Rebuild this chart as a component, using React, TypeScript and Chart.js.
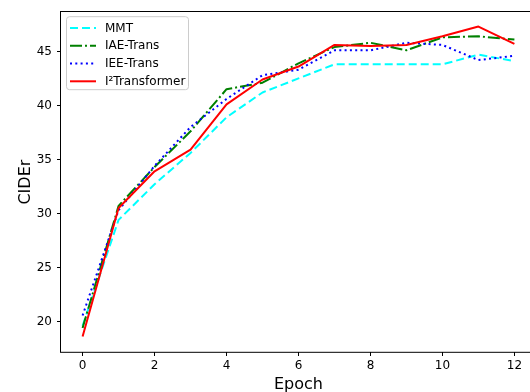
import React, { useEffect, useRef } from 'react';
import { Chart, registerables } from 'chart.js';

Chart.register(...registerables);

const epochs = [0, 1, 2, 3, 4, 5, 6, 7, 8, 9, 10, 11, 12];
const mmt = [19.6, 29.4, 32.7, 35.6, 38.9, 41.2, 42.5, 43.8, 43.8, 43.8, 43.8, 44.7, 44.1];
const iaeTrans = [19.4, 30.7, 34.3, 37.6, 41.5, 42.1, 43.9, 45.4, 45.8, 45.1, 46.3, 46.4, 46.1];
const ieeTrans = [20.55, 30.3, 34.4, 38.0, 40.6, 42.8, 43.3, 45.1, 45.1, 45.8, 45.6, 44.2, 44.6];
const i2Transformer = [18.6, 30.5, 33.9, 35.9, 40.1, 42.4, 43.6, 45.6, 45.5, 45.6, 46.4, 47.3, 45.7];

const seriesNames = ['MMT', 'IAE-Trans', 'IEE-Trans', 'I²Transformer'];
const xTicks = [0, 2, 4, 6, 8, 10, 12];
const yTicks = [20, 25, 30, 35, 40, 45];
const xLabel = 'Epoch';
const yLabel = 'CIDEr';

const FONT = "'DejaVu Sans', sans-serif";

const overlay = {
  id: 'overlay',
  afterDatasetsDraw(chart: any) {
    const { ctx, chartArea: a } = chart;
    ctx.save();
    ctx.strokeStyle = '#000';
    ctx.lineWidth = 1;
    ctx.strokeRect(Math.round(a.left) - 0.5, Math.round(a.top) - 0.5, a.right - a.left + 1, a.bottom - a.top + 1);
    ctx.restore();
  },
  afterDraw(chart: any) {
    const { ctx, chartArea: a } = chart;
    ctx.save();
    // legend
    const bx = a.left + 5.5, by = a.top + 4.5, bw = 122, bh = 73, r = 3;
    ctx.beginPath();
    ctx.moveTo(bx + r, by);
    ctx.lineTo(bx + bw - r, by);
    ctx.arcTo(bx + bw, by, bx + bw, by + r, r);
    ctx.lineTo(bx + bw, by + bh - r);
    ctx.arcTo(bx + bw, by + bh, bx + bw - r, by + bh, r);
    ctx.lineTo(bx + r, by + bh);
    ctx.arcTo(bx, by + bh, bx, by + bh - r, r);
    ctx.lineTo(bx, by + r);
    ctx.arcTo(bx, by, bx + r, by, r);
    ctx.closePath();
    ctx.fillStyle = 'rgba(255,255,255,0.8)';
    ctx.fill();
    ctx.strokeStyle = '#cccccc';
    ctx.lineWidth = 1;
    ctx.stroke();
    chart.data.datasets.forEach((ds: any, i: number) => {
      const y = a.top + 15.7 + i * 17.8;
      ctx.beginPath();
      ctx.setLineDash(ds.borderDash || []);
      ctx.strokeStyle = ds.borderColor;
      ctx.lineWidth = ds.borderWidth;
      ctx.lineCap = 'butt';
      ctx.moveTo(a.left + 9, y);
      ctx.lineTo(a.left + 35, y);
      ctx.stroke();
      ctx.setLineDash([]);
      ctx.fillStyle = '#000';
      ctx.font = `12px ${FONT}`;
      ctx.textAlign = 'left';
      ctx.textBaseline = 'middle';
      ctx.fillText(ds.label, a.left + 44, y + 0.5);
    });
    // axis titles
    ctx.fillStyle = '#000';
    ctx.font = `16px ${FONT}`;
    ctx.textAlign = 'center';
    ctx.textBaseline = 'alphabetic';
    ctx.fillText(xLabel, (a.left + a.right) / 2, 389);
    ctx.translate(29.5, (a.top + a.bottom) / 2);
    ctx.rotate(-Math.PI / 2);
    ctx.fillText(yLabel, 0, 0);
    ctx.restore();
  },
};

export default function App() {
  const ref = useRef<HTMLCanvasElement | null>(null);
  useEffect(() => {
    if (!ref.current) return;
    const mk = (vals: number[]) => epochs.map((e, i) => ({ x: e, y: vals[i] }));
    const chart = new Chart(ref.current, {
      type: 'line',
      data: {
        datasets: [
          { label: seriesNames[0], data: mk(mmt), borderColor: '#00ffff', borderDash: [8, 4], borderWidth: 2, order: 3 },
          { label: seriesNames[1], data: mk(iaeTrans), borderColor: '#008000', borderDash: [12, 3, 2, 3], borderWidth: 2, order: 2 },
          { label: seriesNames[2], data: mk(ieeTrans), borderColor: '#0000ff', borderDash: [2, 3.3], borderWidth: 2, order: 1 },
          { label: seriesNames[3], data: mk(i2Transformer), borderColor: '#ff0000', borderWidth: 2, order: 0 },
        ] as any,
      },
      options: {
        animation: false,
        responsive: false,
        devicePixelRatio: 1,
        layout: { padding: { left: 0, top: 10, right: 24, bottom: 0 } },
        elements: {
          point: { radius: 0, hoverRadius: 0 },
          line: { tension: 0, fill: false, borderCapStyle: 'butt', borderJoinStyle: 'round' },
        },
        plugins: { legend: { display: false }, tooltip: { enabled: false } },
        scales: {
          x: {
            type: 'linear',
            min: -0.6,
            max: 12.6,
            afterBuildTicks: (s: any) => { s.ticks = xTicks.map((v) => ({ value: v })); },
            afterFit: (s: any) => { s.height = 40; },
            grid: { display: true, drawOnChartArea: false, drawTicks: true, tickLength: 4, color: '#000' },
            border: { display: false },
            ticks: { color: '#000', font: { family: FONT, size: 12 }, padding: 3, maxRotation: 0, autoSkip: false },
          },
          y: {
            type: 'linear',
            min: 17.17,
            max: 48.63,
            afterBuildTicks: (s: any) => { s.ticks = yTicks.map((v) => ({ value: v })); },
            afterFit: (s: any) => { s.width = 61; },
            grid: { display: true, drawOnChartArea: false, drawTicks: true, tickLength: 4, color: '#000' },
            border: { display: false },
            ticks: { color: '#000', font: { family: FONT, size: 12 }, padding: 5, autoSkip: false },
          },
        },
      } as any,
      plugins: [overlay],
    });
    return () => chart.destroy();
  }, []);
  return (
    <div style={{ position: 'fixed', left: 0, top: 0, width: 530, height: 392, overflow: 'hidden', background: '#fff' }}>
      <canvas ref={ref} width={560} height={392} style={{ width: 560, height: 392, display: 'block' }} />
    </div>
  );
}
